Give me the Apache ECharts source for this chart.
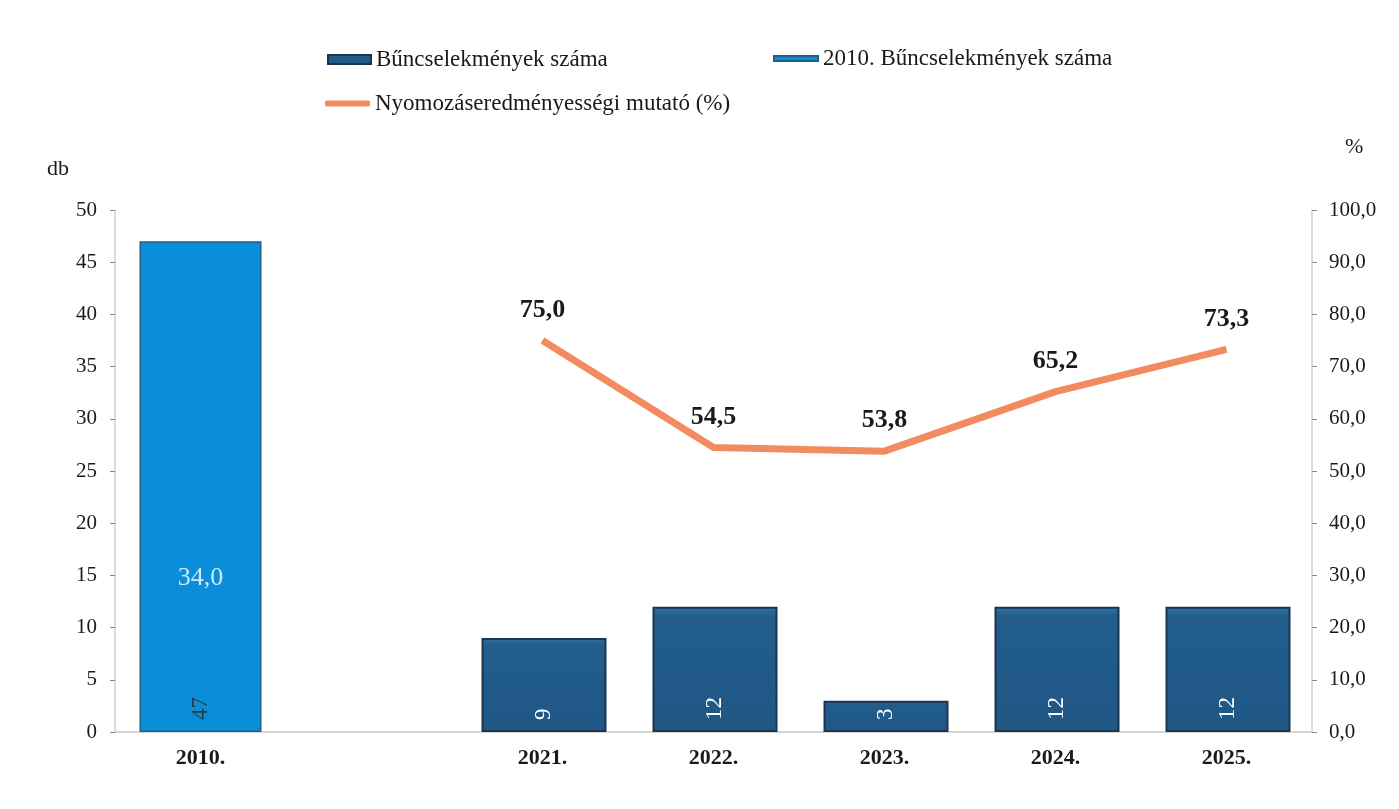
<!DOCTYPE html>
<html>
<head>
<meta charset="utf-8">
<script src="https://cdn.jsdelivr.net/npm/echarts@6/dist/echarts.min.js"></script>
<style>
  html, body { margin: 0; padding: 0; background: #fff; }
  #chart { width: 1399px; height: 809px; }
</style>
</head>
<body>
<div id="chart"></div>
<script>
// Categories along the x axis (the empty slot separates 2010 from the recent years)
const categories = ['2010.', '', '2021.', '2022.', '2023.', '2024.', '2025.'];
// Number of offences (db)
const offences = [null, null, 9, 12, 3, 12, 12];
// Number of offences in 2010 (db)
const offences2010 = [47, null, null, null, null, null, null];
// Investigation success rate (%)
const successRate = [null, null, 75.0, 54.5, 53.8, 65.2, 73.3];
// Investigation success rate in 2010 (%)
const successRate2010 = [34.0, null, null, null, null, null, null];

const names = {
  offences: 'Bűncselekmények száma',
  offences2010: '2010. Bűncselekmények száma',
  rate: 'Nyomozáseredményességi mutató (%)'
};

const FONT = '"Liberation Serif", "Times New Roman", serif';
const INK = '#1a1a1a';
const fmtComma = (v, d) => Number(v).toFixed(d).replace('.', ',');

const chart = echarts.init(document.getElementById('chart'), null, { renderer: 'canvas' });

const legendText = { fontFamily: FONT, fontSize: 23, color: INK };

chart.setOption({
  animation: false,
  backgroundColor: '#ffffff',
  textStyle: { fontFamily: FONT },
  grid: { left: 115, right: 87, top: 210, bottom: 77, containLabel: false },
  legend: [
    {
      data: [{ name: names.offences, icon: 'rect' }],
      left: 322, top: 43, itemWidth: 43, itemHeight: 9,
      textStyle: legendText, selectedMode: false
    },
    {
      data: [{ name: names.offences2010, icon: 'rect' }],
      left: 768, top: 42, itemWidth: 44, itemHeight: 5,
      textStyle: legendText, selectedMode: false
    },
    {
      data: [{ name: names.rate, icon: 'roundRect' }],
      left: 320, top: 87, itemWidth: 45, itemHeight: 6,
      textStyle: legendText, selectedMode: false
    }
  ],
  graphic: [
    { type: 'text', left: 47, top: 158, style: { text: 'db', font: '22px ' + FONT, fill: INK } },
    { type: 'text', left: 1345, top: 136, style: { text: '%', font: '22px ' + FONT, fill: INK } }
  ],
  xAxis: {
    type: 'category',
    data: categories,
    axisLine: { lineStyle: { color: '#c8c8c8', width: 1.5 } },
    axisTick: { show: false },
    axisLabel: { fontFamily: FONT, fontSize: 22, fontWeight: 'bold', color: INK, margin: 15 }
  },
  yAxis: [
    {
      type: 'value', min: 0, max: 50, interval: 5,
      axisLine: { show: true, lineStyle: { color: '#d0d0d0', width: 1.5 } },
      axisTick: { show: true, length: 5, lineStyle: { color: '#888' } },
      splitLine: { show: false },
      axisLabel: { fontFamily: FONT, fontSize: 21, color: INK, margin: 18 }
    },
    {
      type: 'value', min: 0, max: 100, interval: 10,
      axisLine: { show: true, lineStyle: { color: '#d0d0d0', width: 1.5 } },
      axisTick: { show: true, length: 5, lineStyle: { color: '#888' } },
      splitLine: { show: false },
      axisLabel: {
        fontFamily: FONT, fontSize: 21, color: INK, margin: 17,
        formatter: v => fmtComma(v, 1)
      }
    }
  ],
  series: [
    {
      name: names.offences,
      type: 'bar',
      data: offences,
      barWidth: 125,
      barGap: '-100%',
      itemStyle: {
        color: {
          type: 'linear', x: 0, y: 0, x2: 0, y2: 1,
          colorStops: [
            { offset: 0, color: '#3a7fb0' },
            { offset: 0.03, color: '#2a6a9b' },
            { offset: 0.08, color: '#225d8b' },
            { offset: 1, color: '#1f5785' }
          ]
        },
        borderColor: '#1a3550',
        borderWidth: 2
      },
      label: {
        show: true,
        position: 'insideBottom',
        rotate: 90,
        align: 'left',
        verticalAlign: 'middle',
        distance: 12,
        fontFamily: FONT,
        fontSize: 23,
        color: '#ffffff'
      }
    },
    {
      name: names.offences2010,
      type: 'bar',
      data: offences2010,
      barWidth: 122,
      barGap: '-100%',
      itemStyle: { color: '#0b8ed9', borderColor: '#1d5f8a', borderWidth: 1.5 },
      label: {
        show: true,
        position: 'insideBottom',
        rotate: 90,
        align: 'left',
        verticalAlign: 'middle',
        distance: 12,
        fontFamily: FONT,
        fontSize: 23,
        color: '#2a3a40'
      }
    },
    {
      name: names.rate,
      type: 'line',
      yAxisIndex: 1,
      data: successRate,
      symbol: 'circle',
      symbolSize: 1,
      showSymbol: true,
      lineStyle: { color: '#f28b5f', width: 7 },
      itemStyle: { color: '#f28b5f' },
      label: {
        show: true,
        position: 'top',
        distance: 17,
        fontFamily: FONT,
        fontSize: 26,
        fontWeight: 'bold',
        color: INK,
        formatter: p => fmtComma(p.value, 1)
      },
      z: 5
    },
    {
      name: 'mutató 2010',
      type: 'scatter',
      yAxisIndex: 1,
      data: successRate2010,
      symbolSize: 1,
      itemStyle: { color: 'rgba(0,0,0,0)' },
      label: {
        show: true,
        position: 'bottom',
        distance: 10,
        fontFamily: FONT,
        fontSize: 26,
        color: '#ffffff',
        formatter: p => fmtComma(p.value, 1)
      },
      z: 6
    }
  ]
});
</script>
</body>
</html>
